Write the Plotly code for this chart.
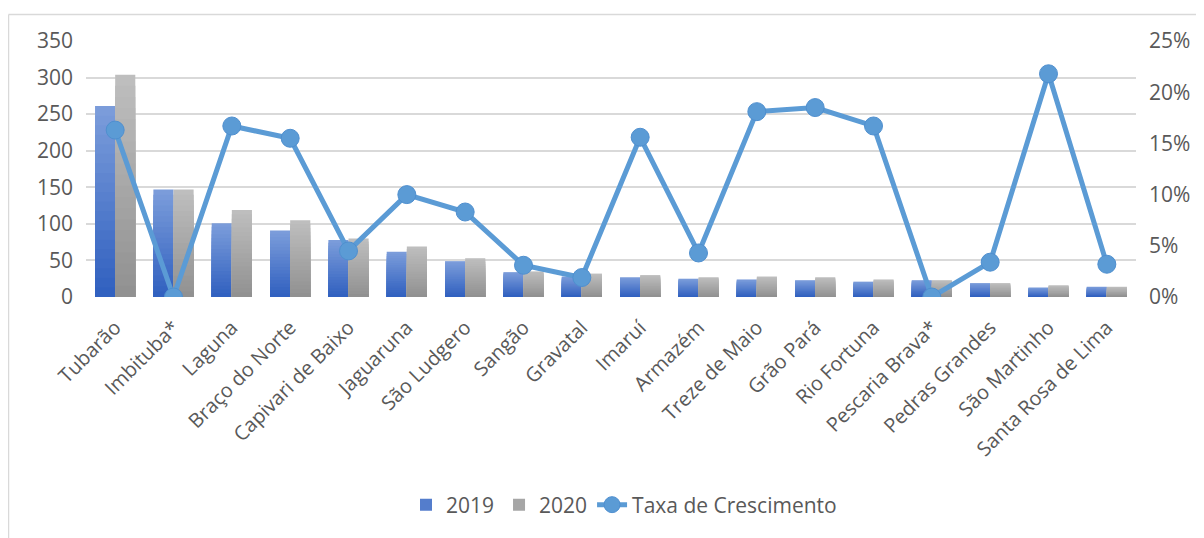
import plotly.graph_objects as go

cidades = ["Tubarão", "Imbituba*", "Laguna", "Braço do Norte", "Capivari de Baixo",
           "Jaguaruna", "São Ludgero", "Sangão", "Gravatal", "Imaruí", "Armazém",
           "Treze de Maio", "Grão Pará", "Rio Fortuna", "Pescaria Brava*",
           "Pedras Grandes", "São Martinho", "Santa Rosa de Lima"]
v2019 = [261, 147, 101, 91, 78, 62, 49, 34, 28, 27, 25, 24, 23, 21, 23, 19, 13, 14]
v2020 = [304, 147, 119, 105, 80, 69, 53, 35, 32, 30, 27, 28, 27, 24, 23, 19, 16, 14]
taxa = [0.163, 0.0, 0.167, 0.155, 0.045, 0.100, 0.083, 0.031, 0.019, 0.156, 0.043,
        0.181, 0.185, 0.167, 0.0, 0.034, 0.218, 0.032]

left_ticks = [0, 50, 100, 150, 200, 250, 300, 350]
right_ticks = [0, 0.05, 0.10, 0.15, 0.20, 0.25]

font_fam = "Open Sans, Liberation Sans, sans-serif"
txt_col = "#595959"

# figure geometry (page has an 8px body offset)
W, H = 1204, 538
ML, MR, MT, MB = 78, 76, 33, 249
PW, PH = W - ML - MR, H - MT - MB


def px_x(x):
    return (x - ML) / PW


def px_y(y):
    return (H - MB - y) / PH


def lerp(c0, c1, t):
    a = [int(c0[i:i + 2], 16) for i in (1, 3, 5)]
    b = [int(c1[i:i + 2], 16) for i in (1, 3, 5)]
    return "rgb(%d,%d,%d)" % tuple(round(a[k] + (b[k] - a[k]) * t) for k in range(3))


N = 20
fig = go.Figure()


def gradient_bars(values, name, group, c_bottom, c_top):
    # overlapping layers: full bar first (top colour), shorter darker layers on top
    for i in range(N):
        frac = (N - i) / N
        col = lerp(c_bottom, c_top, (N - i - 0.5) / N)
        fig.add_trace(go.Bar(
            x=cidades, y=[v * frac for v in values],
            name=name, offsetgroup=group, legendgroup=group,
            showlegend=(i == N // 2), hoverinfo="skip" if i else None,
            marker=dict(color=col, line=dict(width=0))))


gradient_bars(v2019, "2019", "a", "#2f5fbf", "#7d9edb")
gradient_bars(v2020, "2020", "b", "#909090", "#bfbfbf")

fig.add_trace(go.Scatter(x=cidades, y=taxa, name="Taxa de Crescimento", yaxis="y2",
                         mode="lines+markers",
                         line=dict(color="#5b9bd5", width=5),
                         marker=dict(symbol="circle", size=18, color="#5b9bd5",
                                     line=dict(color="#4f8fcf", width=1))))

fig.update_layout(
    width=W, height=H,
    margin=dict(l=ML, r=MR, t=MT, b=MB, autoexpand=False),
    paper_bgcolor="white", plot_bgcolor="white",
    font=dict(family=font_fam, color=txt_col, size=20),
    barmode="group", bargap=0.31, bargroupgap=0,
    showlegend=True,
    legend=dict(orientation="h", x=px_x(616), xanchor="center", y=px_y(497),
                yanchor="middle", font=dict(size=21, color=txt_col),
                traceorder="normal"),
    xaxis=dict(tickangle=-45, showgrid=False, showline=False, ticks="",
               range=[-0.5, len(cidades) - 0.5], automargin=False,
               ticklabelstandoff=14,
               tickfont=dict(size=20, color=txt_col)),
    yaxis=dict(range=[0, 350], tickvals=left_ticks, showgrid=True,
               gridcolor="#d9d9d9", gridwidth=1.5, zeroline=False, showline=False,
               ticks="", ticklabelstandoff=12, automargin=False,
               tickfont=dict(size=21, color=txt_col)),
    yaxis2=dict(range=[0, 0.25], tickvals=right_ticks, tickformat=".0%",
                overlaying="y", side="right", showgrid=False, zeroline=False,
                showline=False, ticks="", ticklabelstandoff=12, automargin=False,
                tickfont=dict(size=21, color=txt_col)),
    shapes=[
        dict(type="line", xref="paper", yref="paper",
             x0=px_x(0.5), x1=px_x(W), y0=px_y(6.5), y1=px_y(6.5),
             line=dict(color="#d9d9d9", width=1.5)),
        dict(type="line", xref="paper", yref="paper",
             x0=px_x(0.5), x1=px_x(0.5), y0=px_y(6.5), y1=px_y(H),
             line=dict(color="#d9d9d9", width=1.5)),
    ],
)

fig.write_html("out.html")
